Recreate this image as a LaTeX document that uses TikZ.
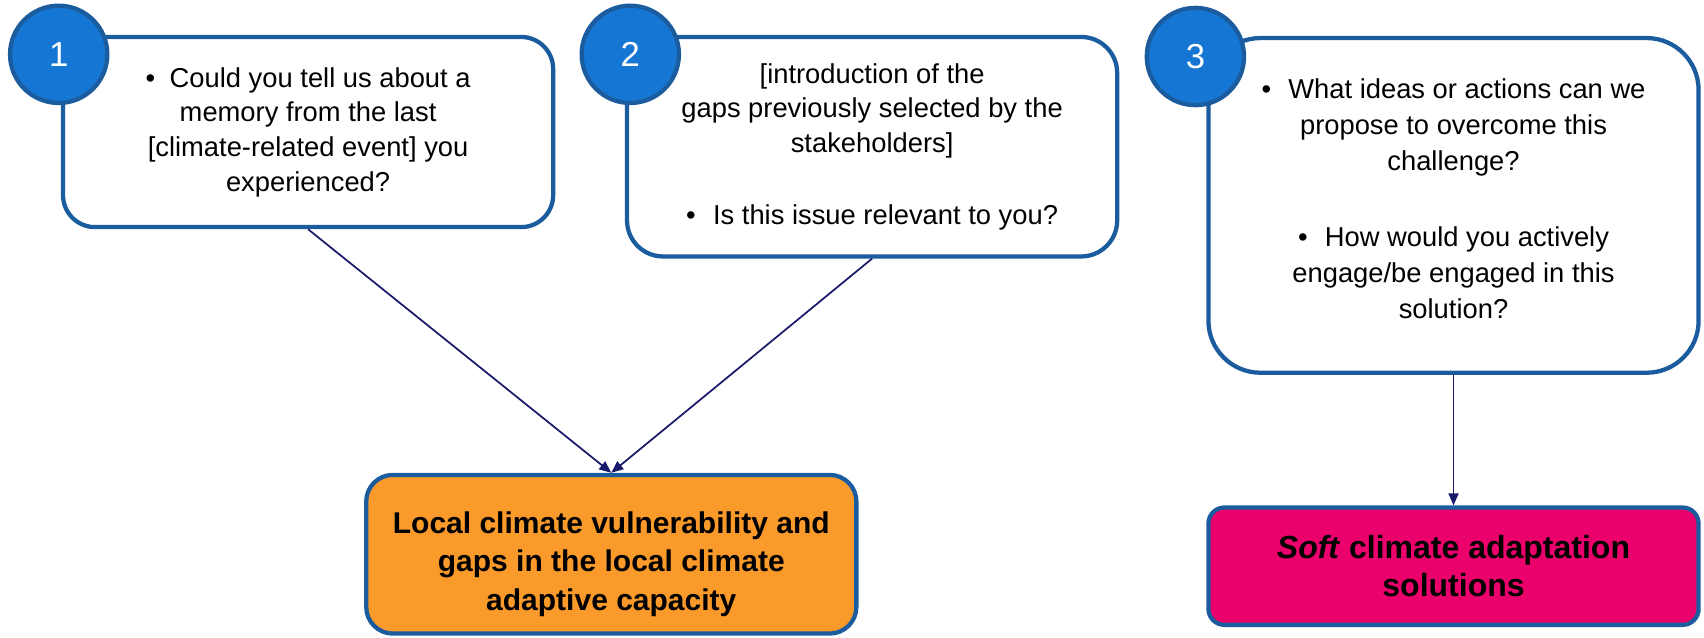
\documentclass[tikz,border=0pt]{standalone}
\usepackage{fontspec}
\setmainfont{Liberation Sans}
\usetikzlibrary{arrows.meta}
\definecolor{rim}{HTML}{1B5C9E}
\definecolor{numblue}{HTML}{1577D3}
\definecolor{gapfill}{HTML}{FA9A2B}
\definecolor{softfill}{HTML}{EB016B}
\definecolor{navy}{HTML}{18196B}
\begin{document}
\begin{tikzpicture}[x=0.815pt,y=-0.815pt,
  qbox/.style={draw=rim,line width=3.2pt,fill=white,minimum width=367.6pt,align=center,inner sep=0pt,font=\fontsize{20.5}{26}\selectfont},
  num/.style={circle,draw=rim,fill=numblue,line width=3.2pt,minimum size=73pt,inner sep=0pt,text=white,font=\fontsize{26}{26}\selectfont},
  res/.style={draw=rim,line width=3.2pt,minimum width=367.6pt,inner sep=0pt,align=center,font=\fontsize{22.5}{29}\selectfont\bfseries},
  link/.style={draw=navy,line width=1.3pt,-{Triangle[length=9pt,width=7.5pt]}}]
\useasboundingbox (0,0) rectangle (1568,586.2);
% questions
\node[qbox,minimum height=142.6pt,rounded corners=24pt] (q1) at (283.5,121.5)
  {\textbullet\hspace{11pt}Could you tell us about a\\ memory from the last\\ {[}climate-related event{]} you\\ experienced?};
\node[qbox,minimum height=164.6pt,rounded corners=27pt] (q2) at (802.5,135)
  {{[}introduction of the\\ gaps previously selected by the\\ stakeholders{]}\\[28pt] \textbullet\hspace{13pt}Is this issue relevant to you?};
\node[qbox,minimum height=251pt,rounded corners=39pt,font=\fontsize{20.5}{27}\selectfont] (q3) at (1337.5,189)
  {\textbullet\hspace{13pt}What ideas or actions can we\\ propose to overcome this\\ challenge?\\[30pt] \textbullet\hspace{13pt}How would you actively\\ engage/be engaged in this\\ solution?\\[-17pt]};
\node[num] (n1) at (54,50) {1};
\node[num] (n2) at (580,50) {2};
\node[num] (n3) at (1100,52) {3};
% results
\node[res,fill=gapfill,minimum height=119pt,rounded corners=20pt] (gaps) at (562.5,510)
  {Local climate vulnerability and\\ gaps in the local climate\\ adaptive capacity\\[-39pt]};
\node[res,fill=softfill,minimum height=88pt,rounded corners=12pt,font=\fontsize{24}{29}\selectfont\bfseries] (soft) at (1337.5,521)
  {\textit{Soft} climate adaptation\\ solutions};
\draw[link] (q1.south) -- (gaps.north);
\draw[link] (q2.south) -- (gaps.north);
\draw[link] (q3.south) -- (soft.north);
\end{tikzpicture}
\end{document}
